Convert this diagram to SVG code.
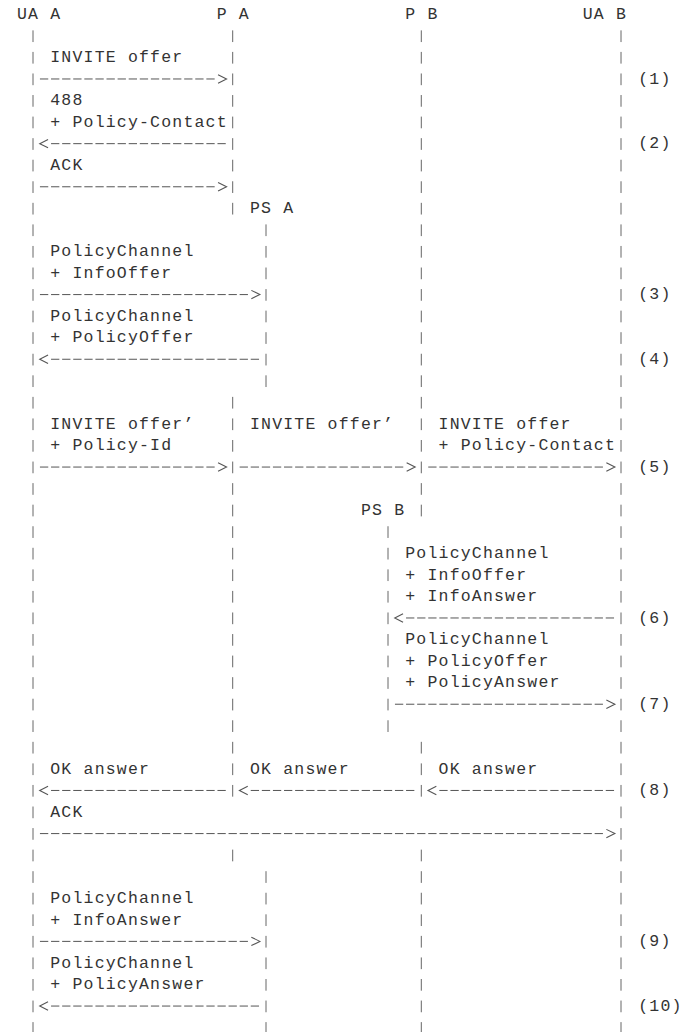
<svg xmlns="http://www.w3.org/2000/svg" xmlns:xlink="http://www.w3.org/1999/xlink" width="681" height="1032" viewBox="0 0 681 1032">
<style>
.t{font-family:"Liberation Mono","DejaVu Sans Mono",monospace;font-size:16.5px;letter-spacing:1.194px;fill:#333}
.ll{stroke:#666;stroke-width:1;stroke-dasharray:11.7 9.86;fill:none}
.dl{stroke:#555;stroke-width:1;stroke-dasharray:8.3 2.794;fill:none}
.ch{stroke:#555;stroke-width:1.1;fill:none}
</style>
<defs>
<path id="hr" class="ch" d="M0,-4.2 L8.5,0 L0,4.2"/>
<path id="hl" class="ch" d="M8.3,-4.2 L0,0 L8.3,4.2"/>
</defs>
<rect width="681" height="1032" fill="#fff"/>

<g id="node-ua-a"><text class="t" x="16.96" y="19">UA A</text></g>
<g id="node-p-a"><text class="t" x="216.66" y="19">P A</text></g>
<g id="node-p-b"><text class="t" x="405.25" y="19">P B</text></g>
<g id="node-ua-b"><text class="t" x="582.76" y="19">UA B</text></g>
<g id="node-ps-a"><text class="t" x="249.94" y="213.04">PS A</text></g>
<g id="node-ps-b"><text class="t" x="360.88" y="514.88">PS B</text></g>

<g id="connectors">
<line class="ll" x1="33" y1="30.36" x2="33" y2="1033.82"/>
<line class="ll" x1="232.7" y1="30.36" x2="232.7" y2="214.54"/>
<line class="ll" x1="232.7" y1="396.88" x2="232.7" y2="796.66"/>
<line class="ll" x1="232.7" y1="849.64" x2="232.7" y2="861.34"/>
<line class="ll" x1="266" y1="224.40" x2="266" y2="387.02"/>
<line class="ll" x1="266" y1="871.20" x2="266" y2="1033.82"/>
<line class="ll" x1="388" y1="526.24" x2="388" y2="731.98"/>
<line class="ll" x1="421.3" y1="30.36" x2="421.3" y2="516.38"/>
<line class="ll" x1="421.3" y1="741.84" x2="421.3" y2="796.66"/>
<line class="ll" x1="421.3" y1="849.64" x2="421.3" y2="1033.82"/>
<line class="ll" x1="621" y1="30.36" x2="621" y2="1033.82"/>

<line class="dl" x1="39.95" y1="78.98" x2="214.66" y2="78.98"/><use xlink:href="#hr" x="218.06" y="78.98"/>
<use xlink:href="#hl" x="39.75" y="143.66"/><line class="dl" x1="51.05" y1="143.66" x2="225.76" y2="143.66"/>
<line class="dl" x1="39.95" y1="186.78" x2="214.66" y2="186.78"/><use xlink:href="#hr" x="218.06" y="186.78"/>
<line class="dl" x1="39.95" y1="294.58" x2="247.94" y2="294.58"/><use xlink:href="#hr" x="251.34" y="294.58"/>
<use xlink:href="#hl" x="39.75" y="359.26"/><line class="dl" x1="51.05" y1="359.26" x2="259.04" y2="359.26"/>
<line class="dl" x1="39.95" y1="467.06" x2="214.66" y2="467.06"/><use xlink:href="#hr" x="218.06" y="467.06"/>
<line class="dl" x1="239.64" y1="467.06" x2="403.26" y2="467.06"/><use xlink:href="#hr" x="406.65" y="467.06"/>
<line class="dl" x1="428.24" y1="467.06" x2="602.95" y2="467.06"/><use xlink:href="#hr" x="606.35" y="467.06"/>
<use xlink:href="#hl" x="394.76" y="617.98"/><line class="dl" x1="406.05" y1="617.98" x2="614.05" y2="617.98"/>
<line class="dl" x1="394.96" y1="704.22" x2="602.95" y2="704.22"/><use xlink:href="#hr" x="606.35" y="704.22"/>
<use xlink:href="#hl" x="39.75" y="790.46"/><line class="dl" x1="51.05" y1="790.46" x2="225.76" y2="790.46"/>
<use xlink:href="#hl" x="239.44" y="790.46"/><line class="dl" x1="250.74" y1="790.46" x2="414.35" y2="790.46"/>
<use xlink:href="#hl" x="428.04" y="790.46"/><line class="dl" x1="439.34" y1="790.46" x2="614.05" y2="790.46"/>
<line class="dl" x1="39.95" y1="833.58" x2="602.95" y2="833.58"/><use xlink:href="#hr" x="606.35" y="833.58"/>
<line class="dl" x1="39.95" y1="941.38" x2="247.94" y2="941.38"/><use xlink:href="#hr" x="251.34" y="941.38"/>
<use xlink:href="#hl" x="39.75" y="1006.06"/><line class="dl" x1="51.05" y1="1006.06" x2="259.04" y2="1006.06"/>
</g>

<g id="messages">
<text class="t" x="50.25" y="62.12">INVITE offer</text>
<text class="t" x="50.25" y="105.24">488</text>
<text class="t" x="50.25" y="126.80">+ Policy-Contact</text>
<text class="t" x="50.25" y="169.92">ACK</text>
<text class="t" x="50.25" y="256.16">PolicyChannel</text>
<text class="t" x="50.25" y="277.72">+ InfoOffer</text>
<text class="t" x="50.25" y="320.84">PolicyChannel</text>
<text class="t" x="50.25" y="342.40">+ PolicyOffer</text>
<text class="t" x="50.25" y="428.64">INVITE offer’</text>
<text class="t" x="50.25" y="450.20">+ Policy-Id</text>
<text class="t" x="249.94" y="428.64">INVITE offer’</text>
<text class="t" x="438.54" y="428.64">INVITE offer</text>
<text class="t" x="438.54" y="450.20">+ Policy-Contact</text>
<text class="t" x="405.25" y="558.00">PolicyChannel</text>
<text class="t" x="405.25" y="579.56">+ InfoOffer</text>
<text class="t" x="405.25" y="601.12">+ InfoAnswer</text>
<text class="t" x="405.25" y="644.24">PolicyChannel</text>
<text class="t" x="405.25" y="665.80">+ PolicyOffer</text>
<text class="t" x="405.25" y="687.36">+ PolicyAnswer</text>
<text class="t" x="50.25" y="773.60">OK answer</text>
<text class="t" x="249.94" y="773.60">OK answer</text>
<text class="t" x="438.54" y="773.60">OK answer</text>
<text class="t" x="50.25" y="816.72">ACK</text>
<text class="t" x="50.25" y="902.96">PolicyChannel</text>
<text class="t" x="50.25" y="924.52">+ InfoAnswer</text>
<text class="t" x="50.25" y="967.64">PolicyChannel</text>
<text class="t" x="50.25" y="989.20">+ PolicyAnswer</text>
</g>

<g id="steps">
<text class="t" x="638.23" y="83.68">(1)</text>
<text class="t" x="638.23" y="148.36">(2)</text>
<text class="t" x="638.23" y="299.28">(3)</text>
<text class="t" x="638.23" y="363.96">(4)</text>
<text class="t" x="638.23" y="471.76">(5)</text>
<text class="t" x="638.23" y="622.68">(6)</text>
<text class="t" x="638.23" y="708.92">(7)</text>
<text class="t" x="638.23" y="795.16">(8)</text>
<text class="t" x="638.23" y="946.08">(9)</text>
<text class="t" x="638.23" y="1010.76">(10)</text>
</g>
</svg>
